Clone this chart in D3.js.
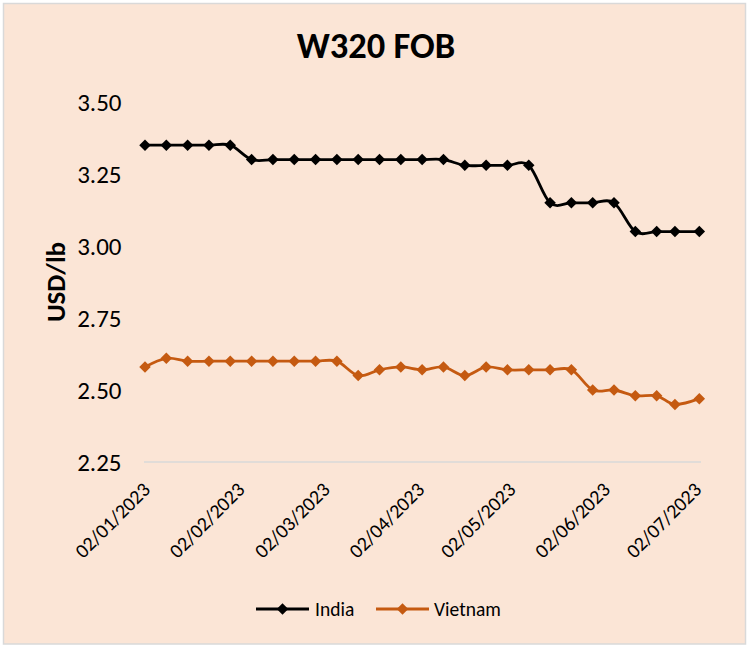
<!DOCTYPE html>
<html>
<head>
<meta charset="utf-8">
<script src="https://cdn.jsdelivr.net/npm/d3@7"></script>
<style>
  html, body { margin: 0; padding: 0; background: #ffffff; }
  svg { display: block; }
  text { font-family: Carlito, Calibri, Lato, "Open Sans", sans-serif; }
</style>
</head>
<body>
<svg id="chart" width="752" height="647"></svg>
<script>
// ---- data ----
const title = "W320 FOB";
const yAxisTitle = "USD/lb";
const dates = [
  "2023-01-02","2023-01-09","2023-01-16","2023-01-23","2023-01-30",
  "2023-02-06","2023-02-13","2023-02-20","2023-02-27",
  "2023-03-06","2023-03-13","2023-03-20","2023-03-27",
  "2023-04-03","2023-04-10","2023-04-17","2023-04-24",
  "2023-05-01","2023-05-08","2023-05-15","2023-05-22","2023-05-29",
  "2023-06-05","2023-06-12","2023-06-19","2023-06-25","2023-07-03"
];
const india = [3.35,3.35,3.35,3.35,3.35,
  3.30,3.30,3.30,3.30,3.30,3.30,3.30,3.30,3.30,3.30,
  3.28,3.28,3.28,3.28,
  3.15,3.15,3.15,3.15,
  3.05,3.05,3.05,3.05];
const vietnam = [2.58,2.61,2.60,2.60,2.60,2.60,2.60,2.60,2.60,2.60,
  2.55,2.57,2.58,2.57,2.58,2.55,2.58,2.57,2.57,2.57,2.57,
  2.50,2.50,2.48,2.48,2.45,2.47];
const xTickDates = ["2023-01-02","2023-02-02","2023-03-02","2023-04-02","2023-05-02","2023-06-02","2023-07-02"];
const yTicks = [2.25, 2.50, 2.75, 3.00, 3.25, 3.50];
const seriesNames = ["India", "Vietnam"];
const seriesColors = ["#000000", "#C55A11"];

// ---- setup ----
const FONT = "Carlito, Calibri, Lato, 'Open Sans', sans-serif";
const parse = d3.timeParse("%Y-%m-%d");
const fmt = d3.timeFormat("%d/%m/%Y");
const svg = d3.select("#chart");

svg.append("rect")
  .attr("x", 3.5).attr("y", 3.5)
  .attr("width", 742).attr("height", 640.5)
  .attr("fill", "#FBE5D6")
  .attr("stroke", "#D9D9D9").attr("stroke-width", 1.5);

const x = d3.scaleTime()
  .domain([parse("2023-01-02"), parse("2023-07-03")])
  .range([145, 699.3]);
const y = d3.scaleLinear().domain([2.25, 3.5]).range([462, 102]);

// title
svg.append("text")
  .attr("x", 376).attr("y", 58)
  .attr("text-anchor", "middle")
  .attr("font-weight", "bold")
  .attr("font-size", 36.5)
  .attr("fill", "#000")
  .text(title);

// y axis (labels only)
const yAxis = d3.axisLeft(y).tickValues(yTicks).tickFormat(d3.format(".2f")).tickSize(0).tickPadding(0);
const gy = svg.append("g").attr("transform", "translate(121.5,0)").call(yAxis);
gy.select(".domain").remove();
gy.selectAll("text")
  .attr("font-size", 25)
  .attr("fill", "#000")
  .attr("font-family", FONT);

// x axis
const xAxis = d3.axisBottom(x)
  .tickValues(xTickDates.map(parse))
  .tickFormat(fmt)
  .tickSize(0).tickPadding(0);
const gx = svg.append("g").attr("transform", "translate(0,462)").call(xAxis);
gx.select(".domain")
  .attr("d", "M144,0H701")
  .attr("stroke", "#D9D9D9")
  .attr("stroke-width", 1.5);
gx.selectAll(".tick text")
  .attr("font-size", 20)
  .attr("fill", "#000")
  .attr("font-family", FONT)
  .attr("text-anchor", "end")
  .attr("dy", "0.35em")
  .attr("y", 0)
  .attr("transform", "translate(1,24) rotate(-45)");

// y axis title
svg.append("text")
  .attr("transform", "translate(65,282) rotate(-90)")
  .attr("text-anchor", "middle")
  .attr("font-weight", "bold")
  .attr("font-size", 27)
  .attr("fill", "#000")
  .text(yAxisTitle);

// series
const allSeries = [india, vietnam];
const line = d3.line()
  .x((d, i) => x(parse(dates[i])))
  .y(d => y(d))
  .curve(d3.curveCatmullRom.alpha(0));
const diamond = d3.symbol(d3.symbolSquare, 66);

allSeries.forEach((vals, si) => {
  const g = svg.append("g");
  g.append("path")
    .attr("d", line(vals))
    .attr("fill", "none")
    .attr("stroke", seriesColors[si])
    .attr("stroke-width", 2.8)
    .attr("stroke-linejoin", "round");
  g.selectAll("path.m")
    .data(vals)
    .join("path")
    .attr("class", "m")
    .attr("d", diamond)
    .attr("transform", (d, i) => `translate(${x(parse(dates[i]))},${y(d)}) rotate(45)`)
    .attr("fill", seriesColors[si]);
});

// legend
const legendItems = [
  { lx: 256, tx: 315 },
  { lx: 376, tx: 434 }
];
const ly = 609;
seriesNames.forEach((name, i) => {
  const it = legendItems[i];
  svg.append("line")
    .attr("x1", it.lx).attr("x2", it.lx + 53)
    .attr("y1", ly).attr("y2", ly)
    .attr("stroke", seriesColors[i]).attr("stroke-width", 2.8);
  svg.append("path")
    .attr("d", diamond)
    .attr("transform", `translate(${it.lx + 26.5},${ly}) rotate(45)`)
    .attr("fill", seriesColors[i]);
  svg.append("text")
    .attr("x", it.tx).attr("y", ly)
    .attr("dy", "0.35em")
    .attr("font-size", 19.5)
    .attr("fill", "#000")
    .text(name);
});
</script>
</body>
</html>
